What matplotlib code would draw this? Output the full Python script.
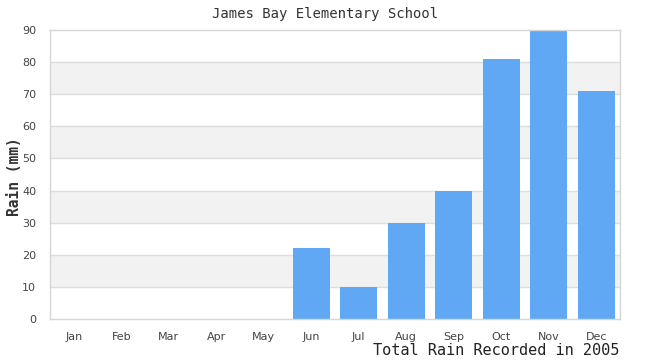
"""
Bar chart of monthly rainfall at James Bay Elementary School, 2005.
"""

import matplotlib
import matplotlib.pyplot as plt

matplotlib.use("Agg")

months = ["Jan", "Feb", "Mar", "Apr", "May", "Jun",
          "Jul", "Aug", "Sep", "Oct", "Nov", "Dec"]
rain_mm = [0, 0, 0, 0, 0, 22, 10, 30, 40, 81, 90, 71]
y_ticks = [0, 10, 20, 30, 40, 50, 60, 70, 80, 90]


def plot_rainfall():
    fig = plt.figure(figsize=(6.5, 3.6), dpi=100)
    ax = fig.add_axes([50 / 650, 41 / 360, 570 / 650, 289 / 360])

    # alternating horizontal bands
    for low, high in zip(y_ticks[:-1], y_ticks[1:]):
        if (low // 10) % 2 == 1:
            ax.axhspan(low, high, color="#f2f2f2", zorder=0, lw=0)
    for t in y_ticks[1:-1]:
        ax.axhline(t, color="#dddddd", lw=1, zorder=1)

    x = range(len(months))
    ax.bar(x, rain_mm, width=0.78, color="#60a8f4", zorder=2)

    ax.set_xlim(-0.5, len(months) - 0.5)
    ax.set_ylim(0, 90)
    ax.set_xticks(list(x))
    ax.set_xticklabels(months)
    ax.set_yticks(y_ticks)
    ax.tick_params(length=0, labelsize=8, colors="#444444")
    ax.tick_params(axis="x", pad=9)
    ax.tick_params(axis="y", pad=10)
    for spine in ax.spines.values():
        spine.set_color("#d6d6d6")
        spine.set_linewidth(1)

    fig.text(325 / 650, 1 - 14 / 360, "James Bay Elementary School",
             ha="center", va="center", family="DejaVu Sans Mono",
             fontsize=10, color="#333333")
    fig.text(15 / 650, 1 - 177 / 360, "Rain (mm)", rotation=90,
             ha="center", va="center", family="DejaVu Sans Mono",
             fontsize=10.5, fontweight="bold", color="#333333")
    fig.text(619 / 650, 2 / 360, "Total Rain Recorded in 2005",
             ha="right", va="bottom", family="DejaVu Sans Mono",
             fontsize=11, color="#222222")

    fig.savefig("out.png", dpi=100)


if __name__ == "__main__":
    plot_rainfall()
